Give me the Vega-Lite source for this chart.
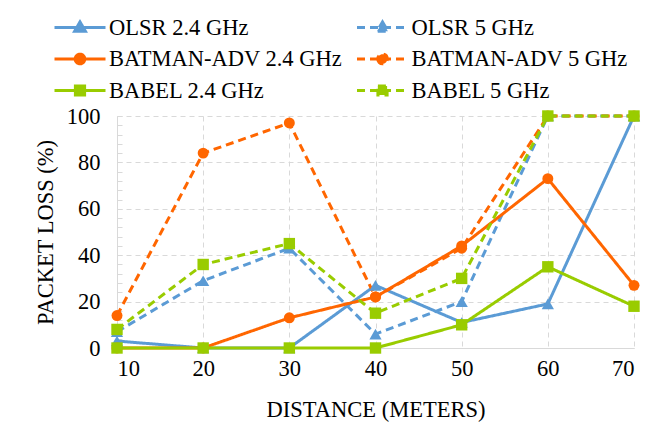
{
  "$schema": "https://vega.github.io/schema/vega-lite/v6.json",
  "width": 517,
  "height": 232,
  "autosize": "none",
  "padding": {"left": 117, "top": 116, "right": 14, "bottom": 84},
  "background": "white",
  "config": {
    "font": "Liberation Serif, Times New Roman, serif",
    "view": {"stroke": null},
    "axis": {
      "labelFont": "Liberation Serif, Times New Roman, serif",
      "titleFont": "Liberation Serif, Times New Roman, serif",
      "labelFontSize": 22.5,
      "titleFontSize": 22.5,
      "titleFontWeight": "normal",
      "labelColor": "black",
      "titleColor": "black"
    },
    "legend": {
      "labelFont": "Liberation Serif, Times New Roman, serif",
      "labelFontSize": 22.5,
      "labelColor": "black",
      "labelLimit": 400,
      "padding": 0
    }
  },
  "data": {
    "values": [
      {"series": "OLSR 2.4 GHz", "protocol": "OLSR", "distance": 10, "loss": 3},
      {"series": "OLSR 2.4 GHz", "protocol": "OLSR", "distance": 20, "loss": 0},
      {"series": "OLSR 2.4 GHz", "protocol": "OLSR", "distance": 30, "loss": 0},
      {"series": "OLSR 2.4 GHz", "protocol": "OLSR", "distance": 40, "loss": 27},
      {"series": "OLSR 2.4 GHz", "protocol": "OLSR", "distance": 50, "loss": 11},
      {"series": "OLSR 2.4 GHz", "protocol": "OLSR", "distance": 60, "loss": 19},
      {"series": "OLSR 2.4 GHz", "protocol": "OLSR", "distance": 70, "loss": 100},
      {"series": "OLSR 5 GHz", "protocol": "OLSR", "distance": 10, "loss": 7},
      {"series": "OLSR 5 GHz", "protocol": "OLSR", "distance": 20, "loss": 29},
      {"series": "OLSR 5 GHz", "protocol": "OLSR", "distance": 30, "loss": 43},
      {"series": "OLSR 5 GHz", "protocol": "OLSR", "distance": 40, "loss": 6},
      {"series": "OLSR 5 GHz", "protocol": "OLSR", "distance": 50, "loss": 20},
      {"series": "OLSR 5 GHz", "protocol": "OLSR", "distance": 60, "loss": 100},
      {"series": "OLSR 5 GHz", "protocol": "OLSR", "distance": 70, "loss": 100},
      {"series": "BATMAN-ADV 2.4 GHz", "protocol": "BATMAN-ADV", "distance": 10, "loss": 0},
      {"series": "BATMAN-ADV 2.4 GHz", "protocol": "BATMAN-ADV", "distance": 20, "loss": 0},
      {"series": "BATMAN-ADV 2.4 GHz", "protocol": "BATMAN-ADV", "distance": 30, "loss": 13},
      {"series": "BATMAN-ADV 2.4 GHz", "protocol": "BATMAN-ADV", "distance": 40, "loss": 22},
      {"series": "BATMAN-ADV 2.4 GHz", "protocol": "BATMAN-ADV", "distance": 50, "loss": 44},
      {"series": "BATMAN-ADV 2.4 GHz", "protocol": "BATMAN-ADV", "distance": 60, "loss": 73},
      {"series": "BATMAN-ADV 2.4 GHz", "protocol": "BATMAN-ADV", "distance": 70, "loss": 27},
      {"series": "BATMAN-ADV 5 GHz", "protocol": "BATMAN-ADV", "distance": 10, "loss": 14},
      {"series": "BATMAN-ADV 5 GHz", "protocol": "BATMAN-ADV", "distance": 20, "loss": 84},
      {"series": "BATMAN-ADV 5 GHz", "protocol": "BATMAN-ADV", "distance": 30, "loss": 97},
      {"series": "BATMAN-ADV 5 GHz", "protocol": "BATMAN-ADV", "distance": 40, "loss": 22},
      {"series": "BATMAN-ADV 5 GHz", "protocol": "BATMAN-ADV", "distance": 50, "loss": 43},
      {"series": "BATMAN-ADV 5 GHz", "protocol": "BATMAN-ADV", "distance": 60, "loss": 100},
      {"series": "BATMAN-ADV 5 GHz", "protocol": "BATMAN-ADV", "distance": 70, "loss": 100},
      {"series": "BABEL 2.4 GHz", "protocol": "BABEL", "distance": 10, "loss": 0},
      {"series": "BABEL 2.4 GHz", "protocol": "BABEL", "distance": 20, "loss": 0},
      {"series": "BABEL 2.4 GHz", "protocol": "BABEL", "distance": 30, "loss": 0},
      {"series": "BABEL 2.4 GHz", "protocol": "BABEL", "distance": 40, "loss": 0},
      {"series": "BABEL 2.4 GHz", "protocol": "BABEL", "distance": 50, "loss": 10},
      {"series": "BABEL 2.4 GHz", "protocol": "BABEL", "distance": 60, "loss": 35},
      {"series": "BABEL 2.4 GHz", "protocol": "BABEL", "distance": 70, "loss": 18},
      {"series": "BABEL 5 GHz", "protocol": "BABEL", "distance": 10, "loss": 8},
      {"series": "BABEL 5 GHz", "protocol": "BABEL", "distance": 20, "loss": 36},
      {"series": "BABEL 5 GHz", "protocol": "BABEL", "distance": 30, "loss": 45},
      {"series": "BABEL 5 GHz", "protocol": "BABEL", "distance": 40, "loss": 15},
      {"series": "BABEL 5 GHz", "protocol": "BABEL", "distance": 50, "loss": 30},
      {"series": "BABEL 5 GHz", "protocol": "BABEL", "distance": 60, "loss": 100},
      {"series": "BABEL 5 GHz", "protocol": "BABEL", "distance": 70, "loss": 100}
    ]
  },
  "encoding": {
    "x": {
      "field": "distance",
      "type": "quantitative",
      "scale": {"domain": [10, 70], "nice": false, "zero": false},
      "axis": {
        "title": "DISTANCE (METERS)",
        "values": [10, 20, 30, 40, 50, 60, 70],
        "ticks": false,
        "domainColor": "#D9D9D9",
        "domainWidth": 1,
        "grid": true,
        "gridColor": "#D9D9D9",
        "gridDash": [5, 4],
        "gridWidth": 1,
        "labelPadding": 9,
        "titlePadding": 19
      }
    },
    "y": {
      "field": "loss",
      "type": "quantitative",
      "scale": {"domain": [0, 100], "nice": false}
    },
    "color": {
      "field": "series",
      "type": "nominal",
      "scale": {
        "domain": ["OLSR 2.4 GHz", "OLSR 5 GHz", "BATMAN-ADV 2.4 GHz", "BATMAN-ADV 5 GHz", "BABEL 2.4 GHz", "BABEL 5 GHz"],
        "range": ["#5B9BD5", "#5B9BD5", "#FF6600", "#FF6600", "#99CC00", "#99CC00"]
      },
      "legend": {
        "title": null,
        "orient": "none",
        "legendX": -63,
        "legendY": -100,
        "direction": "horizontal",
        "columns": 2,
        "columnPadding": 7.5,
        "rowPadding": 8.5,
        "symbolType": "stroke",
        "symbolSize": 400,
        "symbolStrokeWidth": 3,
        "symbolOffset": 14.5,
        "labelOffset": 17.5,
        "encode": {
          "symbols": {
            "update": {
              "fill": {"scale": "color", "field": "value"},
              "shape": {
                "signal": "indexof(datum.value, 'OLSR') === 0 ? 'M-2.55,0H2.55M0,-0.56L0.54,0.38L-0.54,0.38Z' : indexof(datum.value, 'BATMAN') === 0 ? 'M-2.55,0H2.55M-0.48,0A0.48,0.48 0 1,0 0.48,0A0.48,0.48 0 1,0 -0.48,0Z' : 'M-2.55,0H2.55M-0.46,-0.46H0.46V0.46H-0.46Z'"
              }
            }
          }
        }
      }
    }
  },
  "layer": [
    {
      "mark": {"type": "line", "strokeWidth": 3},
      "encoding": {
        "y": {
          "field": "loss",
          "type": "quantitative",
          "axis": {
            "orient": "left",
            "title": "PACKET LOSS (%)",
            "values": [0, 20, 40, 60, 80, 100],
            "ticks": false,
            "domainColor": "#D9D9D9",
            "domainWidth": 1,
            "grid": true,
            "gridColor": "#D9D9D9",
            "gridDash": [5, 4],
            "gridWidth": 1,
            "labelPadding": 17,
            "titlePadding": 9
          }
        },
        "strokeDash": {
          "field": "series",
          "type": "nominal",
          "scale": {
            "domain": ["OLSR 2.4 GHz", "OLSR 5 GHz", "BATMAN-ADV 2.4 GHz", "BATMAN-ADV 5 GHz", "BABEL 2.4 GHz", "BABEL 5 GHz"],
            "range": [[1, 0], [8, 5], [1, 0], [8, 5], [1, 0], [8, 5]]
          }
        }
      }
    },
    {
      "transform": [{"filter": "datum.protocol === 'OLSR'"}],
      "mark": {"type": "point", "shape": "triangle-up", "filled": true, "opacity": 1, "size": 150},
      "encoding": {
        "y": {
          "field": "loss",
          "type": "quantitative",
          "axis": {
            "orient": "left",
            "title": null,
            "values": [0, 4, 8, 12, 16, 20, 24, 28, 32, 36, 40, 44, 48, 52, 56, 60, 64, 68, 72, 76, 80, 84, 88, 92, 96, 100],
            "labels": false,
            "domain": false,
            "grid": false,
            "ticks": true,
            "tickSize": -5,
            "tickColor": "#D9D9D9",
            "tickWidth": 1
          }
        }
      }
    },
    {
      "transform": [{"filter": "datum.protocol === 'BATMAN-ADV'"}],
      "mark": {"type": "point", "shape": "circle", "filled": true, "opacity": 1, "size": 120},
      "encoding": {
        "y": {"field": "loss", "type": "quantitative", "axis": null}
      }
    },
    {
      "transform": [{"filter": "datum.protocol === 'BABEL'"}],
      "mark": {"type": "point", "shape": "square", "filled": true, "opacity": 1, "size": 130},
      "encoding": {
        "y": {"field": "loss", "type": "quantitative", "axis": null}
      }
    }
  ],
  "resolve": {
    "axis": {"y": "independent"}
  }
}
